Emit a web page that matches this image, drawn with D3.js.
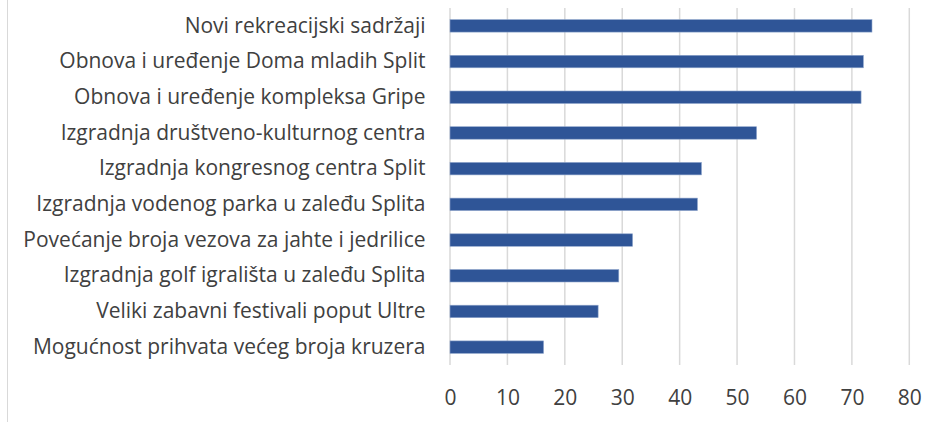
<!DOCTYPE html>
<html>
<head>
<meta charset="utf-8">
<script src="https://cdn.jsdelivr.net/npm/d3@7/dist/d3.min.js"></script>
<style>
  html, body { margin: 0; padding: 0; background: #fff; }
  svg { display: block; }
</style>
</head>
<body>
<svg id="chart" width="943" height="422"></svg>
<script>
// Survey items, top to bottom
const categories = [
  "Novi rekreacijski sadržaji",
  "Obnova i uređenje Doma mladih Split",
  "Obnova i uređenje kompleksa Gripe",
  "Izgradnja društveno-kulturnog centra",
  "Izgradnja kongresnog centra Split",
  "Izgradnja vodenog parka u zaleđu Splita",
  "Povećanje broja vezova za jahte i jedrilice",
  "Izgradnja golf igrališta u zaleđu Splita",
  "Veliki zabavni festivali poput Ultre",
  "Mogućnost prihvata većeg broja kruzera"
];
const values = [73.5, 72.0, 71.6, 53.4, 43.8, 43.1, 31.8, 29.4, 25.8, 16.3];
const tickValues = [0, 10, 20, 30, 40, 50, 60, 70, 80];

const svg = d3.select("#chart");
const font = "'Open Sans', 'Liberation Sans', sans-serif";
const textColor = "#404040";

const plot = { left: 450, right: 909.3, top: 8, bottom: 365 };

const x = d3.scaleLinear().domain([0, 80]).range([plot.left, plot.right]);
const y = d3.scaleBand().domain(categories).range([plot.top, plot.bottom])
  .paddingInner(0.65).paddingOuter(0.325);

// outer frame edge on the left
svg.append("line")
  .attr("x1", 7.5).attr("x2", 7.5).attr("y1", 0).attr("y2", 422)
  .attr("stroke", "#d9d9d9").attr("stroke-width", 1);

// vertical gridlines
svg.append("g")
  .selectAll("line")
  .data(tickValues)
  .join("line")
  .attr("x1", d => x(d)).attr("x2", d => x(d))
  .attr("y1", plot.top).attr("y2", plot.bottom)
  .attr("stroke", "#d9d9d9").attr("stroke-width", 1.5);

// bars
svg.append("g")
  .selectAll("rect")
  .data(values)
  .join("rect")
  .attr("x", x(0))
  .attr("y", (d, i) => y(categories[i]))
  .attr("width", d => x(d) - x(0))
  .attr("height", y.bandwidth())
  .attr("fill", "#2F5597")
  .attr("stroke", "#8fa6cc")
  .attr("stroke-width", 0.6);

// category labels
const catAxis = d3.axisLeft(y).tickSize(0).tickPadding(0);
const gy = svg.append("g")
  .attr("transform", `translate(425.5,0)`)
  .call(catAxis);
gy.select(".domain").remove();
gy.selectAll("text")
  .attr("font-family", font)
  .attr("font-size", 21)
  .attr("fill", textColor);

// value axis labels
const valAxis = d3.axisBottom(x).tickValues(tickValues).tickSize(0).tickPadding(0);
const gx = svg.append("g")
  .attr("transform", `translate(0,${plot.bottom})`)
  .call(valAxis);
gx.select(".domain").remove();
gx.selectAll("text")
  .attr("font-family", font)
  .attr("font-size", 21)
  .attr("fill", textColor)
  .attr("dy", null)
  .attr("y", 39.5);
</script>
</body>
</html>
